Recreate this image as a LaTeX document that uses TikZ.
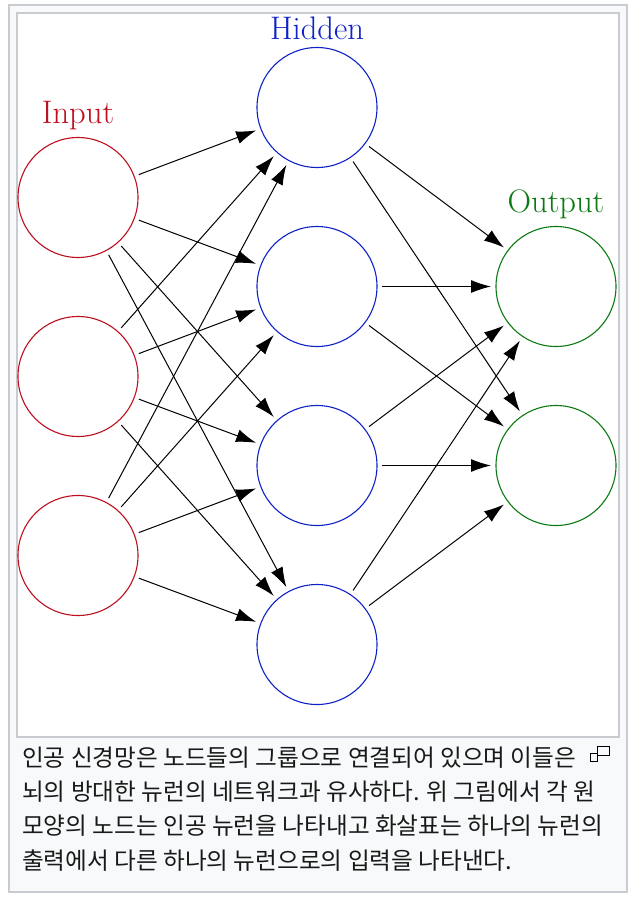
\documentclass[tikz,border=0pt]{standalone}
\usepackage{fontspec}
\usetikzlibrary{arrows.meta}
\newfontfamily\krfont{Noto Sans CJK KR}
\definecolor{frameC}{HTML}{C8CCD1}
\definecolor{panelC}{HTML}{F8F9FA}
\definecolor{inC}{HTML}{BD0F1E}
\definecolor{hidC}{HTML}{0F22C8}
\definecolor{outC}{HTML}{0B7A12}
\tikzset{
  x=1pt,y=-1pt,
  neuron/.style={circle,draw=#1,line width=1.1pt,minimum size=120pt,inner sep=0pt,outer sep=0pt},
  layerlabel/.style={text=#1,font=\fontsize{32.6}{33}\selectfont,inner sep=0pt},
  link/.style={draw=black,line width=1pt,-{Latex[length=20pt,width=13pt]},shorten <=5pt,shorten >=5pt},
  captionline/.style={anchor=west,inner sep=0pt,font=\krfont\fontsize{23.65}{24}\selectfont,text=black!90}
}
\begin{document}
\begin{tikzpicture}
\useasboundingbox (0,0) rectangle (642,902);
\fill[white] (0,0) rectangle (642,902);
\draw[frameC,fill=panelC,line width=2pt] (9,5) rectangle (627,892);
\draw[frameC,fill=white,line width=2pt] (17,13) rectangle (619,737);
\node[neuron=inC] (i1) at (78,197.5) {};
\node[neuron=inC] (i2) at (78,376.5) {};
\node[neuron=inC] (i3) at (78,555.5) {};
\node[neuron=hidC] (h1) at (317,107.5) {};
\node[neuron=hidC] (h2) at (317,286.5) {};
\node[neuron=hidC] (h3) at (317,465.5) {};
\node[neuron=hidC] (h4) at (317,644.5) {};
\node[neuron=outC] (o1) at (556,286.5) {};
\node[neuron=outC] (o2) at (556,465.5) {};
\node[layerlabel=inC] (li) at (78,116) {Input};
\node[layerlabel=hidC] (lh) at (317,28.5) {Hidden};
\node[layerlabel=outC] (lo) at (556,204.5) {Output};
\foreach \a in {i1,i2,i3}{\foreach \b in {h1,h2,h3,h4}{\draw[link] (\a) -- (\b);}}
\foreach \a in {h1,h2,h3,h4}{\foreach \b in {o1,o2}{\draw[link] (\a) -- (\b);}}
\node[captionline] (c1) at (22,758) {인공 신경망은 노드들의 그룹으로 연결되어 있으며 이들은};
\node[captionline] (c2) at (22,792) {뇌의 방대한 뉴런의 네트워크과 유사하다. 위 그림에서 각 원};
\node[captionline] (c3) at (22,826) {모양의 노드는 인공 뉴런을 나타내고 화살표는 하나의 뉴런의};
\node[captionline] (c4) at (22,861) {출력에서 다른 하나의 뉴런으로의 입력을 나타낸다.};
\draw[black,line width=1pt] (597,746.5) rectangle (609.5,755.5);
\draw[black,fill=panelC,line width=1pt] (590.5,753) rectangle (597.5,761);
\end{tikzpicture}
\end{document}
